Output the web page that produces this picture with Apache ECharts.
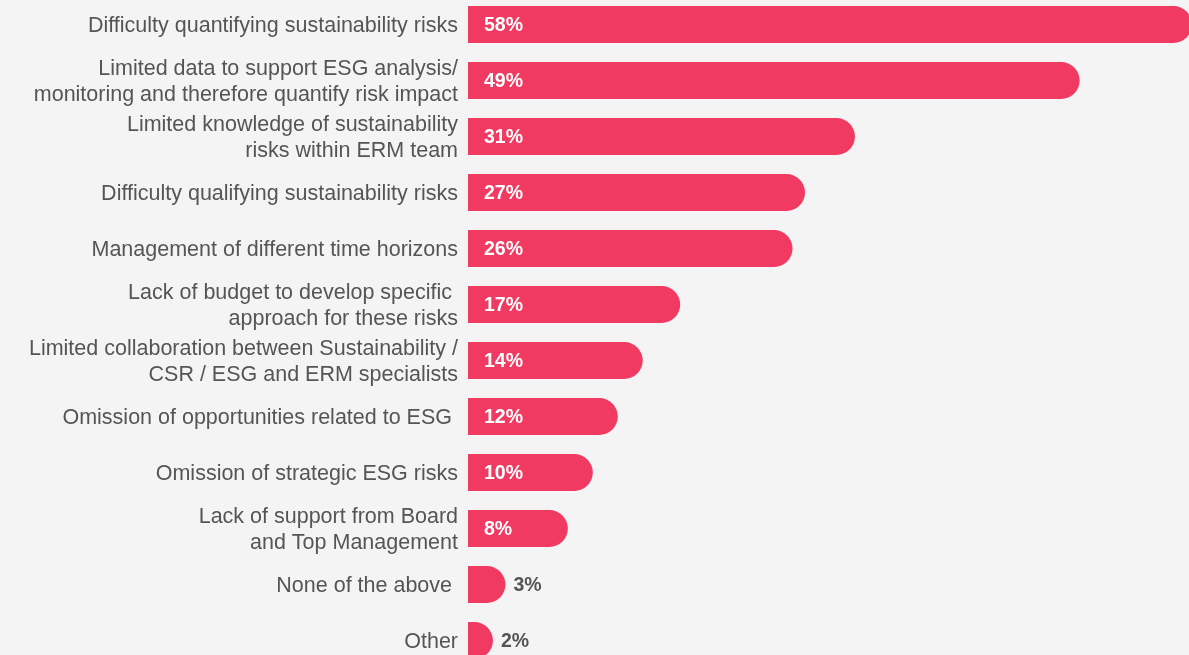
<!DOCTYPE html>
<html><head><meta charset="utf-8">
<script src="https://cdn.jsdelivr.net/npm/echarts@6/dist/echarts.min.js"></script>
<style>html,body{margin:0;padding:0;background:#f4f4f4;overflow:hidden;}#c{width:1189px;height:655px;}</style>
</head><body><div id="c"></div>
<script>
const categories = [
  "Difficulty quantifying sustainability risks",
  "Limited data to support ESG analysis/\nmonitoring and therefore quantify risk impact",
  "Limited knowledge of sustainability\nrisks within ERM team",
  "Difficulty qualifying sustainability risks",
  "Management of different time horizons",
  "Lack of budget to develop specific \napproach for these risks",
  "Limited collaboration between Sustainability /\nCSR / ESG and ERM specialists",
  "Omission of opportunities related to ESG ",
  "Omission of strategic ESG risks",
  "Lack of support from Board\nand Top Management",
  "None of the above ",
  "Other"
];
const values = [58, 49, 31, 27, 26, 17, 14, 12, 10, 8, 3, 2];
const insideThreshold = 5;

const chart = echarts.init(document.getElementById('c'), null, {renderer:'canvas'});
chart.setOption({
  backgroundColor: '#f4f4f4',
  animation: false,
  grid: {left: 468, top: -3.5, height: 672, width: 724, containLabel: false, outerBoundsMode: 'none'},
  xAxis: {type: 'value', min: 0, max: 58, show: false},
  yAxis: {
    type: 'category', data: categories, inverse: true,
    axisLine: {show: false}, axisTick: {show: false}, splitLine: {show: false},
    axisLabel: {color: '#555', fontSize: 21.5, lineHeight: 26, margin: 10,
      fontFamily: 'Liberation Sans, Arial, sans-serif',
      formatter: v => v.split('\n').map(l => '{a|' + l + '}').join('\n'),
      rich: {a: {color: '#555', fontSize: 21.5, lineHeight: 26, padding: [4, 0, 0, 0],
        fontFamily: 'Liberation Sans, Arial, sans-serif'}}}
  },
  series: [{
    type: 'bar', barWidth: 37,
    data: values.map(v => ({
      value: v,
      label: v > insideThreshold
        ? {position: 'insideLeft', distance: 16, color: '#fff'}
        : {position: 'right', distance: 8, color: '#555'}
    })),
    itemStyle: {color: '#f03a62', borderRadius: [0, 18.5, 18.5, 0]},
    label: {show: true, formatter: '{c}%', fontSize: 19.5, fontWeight: 'bold', offset: [0, 1.5],
      fontFamily: 'Liberation Sans, Arial, sans-serif'}
  }]
});
</script></body></html>
